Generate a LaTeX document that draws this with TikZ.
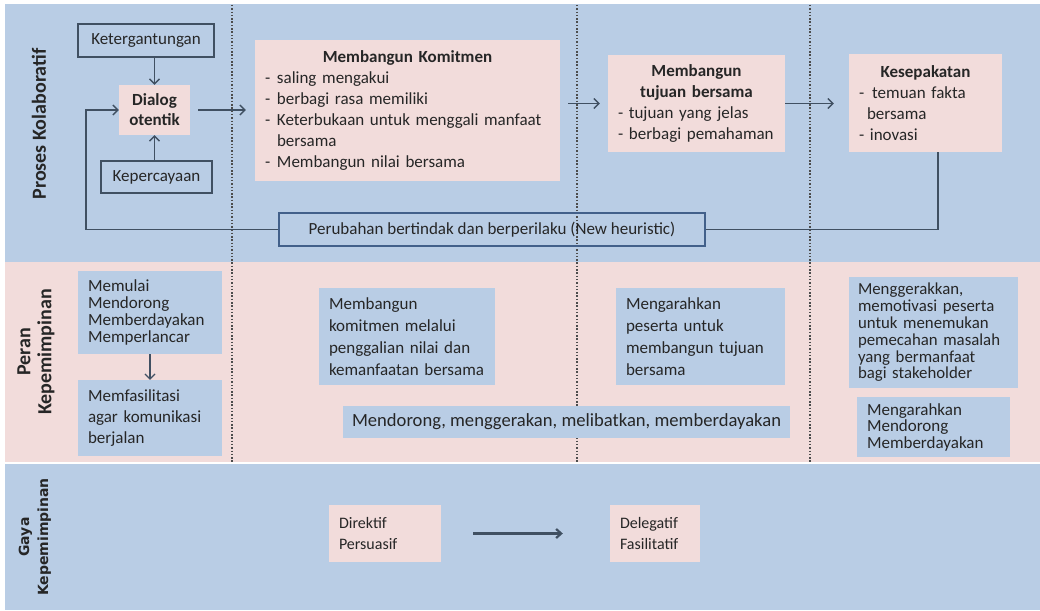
\documentclass[tikz,border=0pt]{standalone}
\usepackage{fontspec}
\setmainfont{Carlito}
\newfontfamily\gayafont{DejaVu Sans}
\usetikzlibrary{arrows.meta}
\definecolor{bgblue}{RGB}{185,205,229}
\definecolor{bgpink}{RGB}{242,220,219}
\definecolor{ln}{RGB}{64,80,98}
\definecolor{txt}{RGB}{38,38,38}
\definecolor{pbline}{RGB}{66,96,138}
\newcommand{\dashitem}{\makebox[12pt][l]{-}}
\newcommand{\ctrline}[1]{\leavevmode\hbox to\hsize{\hss\bfseries #1\hss}}
\begin{document}
\begin{tikzpicture}[x=1pt,y=-1pt,
  font=\fontsize{17}{21}\selectfont, text=txt,
  outbox/.style={draw=ln, line width=1.4pt, inner sep=0pt, align=center},
  pinkbox/.style={fill=bgpink, inner xsep=10pt, inner ysep=0pt, align=left},
  bluebox/.style={fill=bgblue, inner xsep=10pt, inner ysep=0pt, align=left},
  conn/.style={draw=ln, line width=1.4pt},
  arr/.style={conn, -{Straight Barb[length=5pt,width=10pt]}},
  sep/.style={draw=black!70, line width=1.5pt, dash pattern=on 1.5pt off 1.8pt},
  lbl/.style={rotate=90, font=\fontsize{20}{21}\selectfont\bfseries, align=center}]

\useasboundingbox (0,0) rectangle (1040,610);
\fill[white] (0,0) rectangle (1040,610);
\fill[bgblue] (5,4) rectangle (1040,262);
\fill[bgpink] (5,262) rectangle (1040,462);
\fill[bgblue] (5,464) rectangle (1040,610);

% separators
\draw[sep] (232,5) -- (232,462);
\draw[sep] (577,5) -- (577,462);
\draw[sep] (810,5) -- (810,462);

% side labels
\node[lbl] (L1) at (39,124) {Proses Kolaboratif};
\node[lbl] (L2) at (36,352) {Peran\\Kepemimpinan};
\node[rotate=90, font=\gayafont\bfseries\fontsize{14}{19}\selectfont, align=center] (L3) at (35,537) {Gaya\\Kepemimpinan};

% top band
\node[outbox, minimum width=136pt, minimum height=33pt] (K1) at (146,40.5) {Ketergantungan};
\node[fill=bgpink, inner sep=0pt, align=center, minimum width=71pt, minimum height=50pt,
      font=\fontsize{17}{20}\selectfont\bfseries] (D) at (154.5,110) {Dialog\\otentik};
\node[outbox, minimum width=111pt, minimum height=32pt] (K2) at (156.5,177) {Kepercayaan};

\node[pinkbox, text width=285pt, minimum height=141pt] (MK) at (407.5,110.5)
 {\ctrline{Membangun Komitmen}\\
  \dashitem saling mengakui\\
  \dashitem berbagi rasa memiliki\\
  \dashitem Keterbukaan untuk menggali manfaat\\
  \hspace*{12pt}bersama\\
  \dashitem Membangun nilai bersama};

\node[pinkbox, text width=157pt, minimum height=97pt] (MT) at (696.5,103.5)
 {\ctrline{Membangun}\\
  \ctrline{tujuan bersama}\\
  - tujuan yang jelas\\
  - berbagi pemahaman};

\node[pinkbox, text width=133pt, minimum height=98pt] (KS) at (925.5,103)
 {\ctrline{Kesepakatan}\\
  -\hspace{8pt}temuan fakta\\
  \hspace*{8pt}bersama\\
  - inovasi};

\node[draw=pbline, line width=1.4pt, inner sep=0pt, minimum width=426pt, minimum height=33pt] (PB) at (492,229.5)
 {Perubahan bertindak dan berperilaku (New heuristic)};

\draw[arr] (K1.south -| D.north) -- (D.north);
\draw[arr] (K2.north -| D.south) -- (D.south);
\draw[arr, shorten <=8pt, shorten >=9pt] (D.east) -- (D.east -| MK.west);
\draw[arr, shorten <=8pt, shorten >=8pt] (MT.west -| MK.east) -- (MT.west);
\draw[arr, shorten >=15pt] (MT.east) -- (MT.east -| KS.west);
\draw[conn] ([xshift=12.5pt]KS.south) |- (PB.east);
\coordinate (lp) at (86,110);
\draw[arr] (PB.west) -| (lp) -- (D.west);

% middle band
\node[bluebox, text width=124pt, minimum height=83pt, font=\fontsize{17}{17}\selectfont] (B1) at (150,312.5)
 {Memulai\\Mendorong\\Memberdayakan\\Memperlancar};
\node[bluebox, text width=124pt, minimum height=76pt] (B2) at (150,418)
 {Memfasilitasi\\agar komunikasi\\berjalan};
\draw[arr, line width=1.2pt] (B1.south) -- (B2.north);

\node[bluebox, text width=156pt, minimum height=97pt, font=\fontsize{17}{22}\selectfont] (B3) at (407,336.5)
 {Membangun\\komitmen melalui\\penggalian nilai dan\\kemanfaatan bersama};
\node[bluebox, text width=149pt, minimum height=97pt, font=\fontsize{17}{22}\selectfont] (B4) at (700.5,336.5)
 {Mengarahkan\\peserta untuk\\membangun tujuan\\bersama};
\node[fill=bgblue, inner sep=0pt, minimum width=447pt, minimum height=32pt, font=\fontsize{18.6}{21}\selectfont] (B5) at (566.5,422)
 {Mendorong, menggerakan, melibatkan, memberdayakan};
\node[bluebox, inner xsep=9pt, text width=151pt, minimum height=111pt, font=\fontsize{16.8}{16.8}\selectfont] (B6) at (933.5,332.5)
 {Menggerakkan,\\memotivasi~peserta\\untuk~menemukan\\pemecahan~masalah\\yang~bermanfaat\\bagi~stakeholder};
\node[bluebox, text width=133pt, minimum height=60pt, font=\fontsize{17}{16.5}\selectfont] (B7) at (933.5,427)
 {Mengarahkan\\Mendorong\\Memberdayakan};

% bottom band
\node[pinkbox, text width=92pt, minimum height=57pt, font=\fontsize{16}{21}\selectfont] (G1) at (385,533.5)
 {Direktif\\Persuasif};
\node[pinkbox, text width=70pt, minimum height=57pt, font=\fontsize{16}{21}\selectfont] (G2) at (655,533.5)
 {Delegatif\\Fasilitatif};
\draw[conn, line width=2.2pt, -{Straight Barb[length=5pt,width=9pt]}, shorten <=32pt, shorten >=47pt] (G1.east) -- (G1.east -| G2.west);
\end{tikzpicture}
\end{document}
